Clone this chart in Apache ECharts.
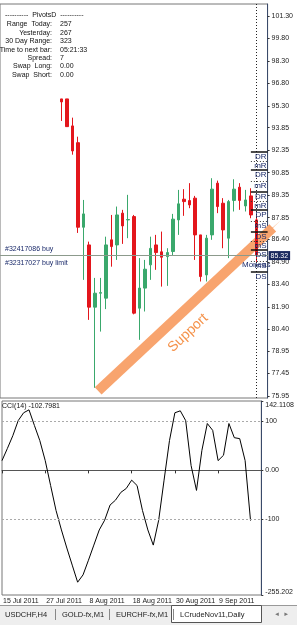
<!DOCTYPE html>
<html>
<head>
<meta charset="utf-8">
<script src="https://cdn.jsdelivr.net/npm/echarts@6/dist/echarts.min.js"></script>
<style>
html, body { margin: 0; padding: 0; background: #fff; }
#chart { width: 297px; height: 625px; }
</style>
</head>
<body>
<div id="chart"></div>
<script>
const dates = [
  '15 Jul 2011', '18 Jul 2011', '19 Jul 2011', '20 Jul 2011', '21 Jul 2011', '22 Jul 2011',
  '25 Jul 2011', '26 Jul 2011', '27 Jul 2011', '28 Jul 2011', '29 Jul 2011',
  '1 Aug 2011', '2 Aug 2011', '3 Aug 2011', '4 Aug 2011', '5 Aug 2011',
  '8 Aug 2011', '9 Aug 2011', '10 Aug 2011', '11 Aug 2011', '12 Aug 2011',
  '15 Aug 2011', '16 Aug 2011', '17 Aug 2011', '18 Aug 2011', '19 Aug 2011',
  '22 Aug 2011', '23 Aug 2011', '24 Aug 2011', '25 Aug 2011', '26 Aug 2011',
  '29 Aug 2011', '30 Aug 2011', '31 Aug 2011', '1 Sep 2011', '2 Sep 2011',
  '5 Sep 2011', '6 Sep 2011', '7 Sep 2011', '8 Sep 2011', '9 Sep 2011',
  '12 Sep 2011', '13 Sep 2011', '14 Sep 2011', '15 Sep 2011', '16 Sep 2011',
  '19 Sep 2011', '20 Sep 2011', '21 Sep 2011'
]

// visible candles start on 1 Aug 2011 (open, close, low, high)
const firstCandle = 11
const ohlc = [
  [95.77, 95.57, 94.30, 95.77],
  [95.77, 93.92, 93.90, 95.77],
  [93.97, 92.30, 92.05, 94.52],
  [92.85, 87.21, 86.83, 93.25],
  [87.21, 88.10, 83.70, 89.03],
  [86.03, 81.88, 81.03, 86.25],
  [81.88, 82.81, 76.50, 83.83],
  [82.81, 82.85, 80.25, 83.83],
  [82.48, 86.03, 81.75, 86.58],
  [86.37, 85.92, 84.58, 88.03],
  [86.03, 88.03, 85.03, 88.59],
  [88.15, 87.30, 86.10, 88.37],
  [87.70, 87.72, 86.48, 89.37],
  [87.92, 81.48, 81.40, 88.03],
  [81.81, 83.15, 79.70, 85.15],
  [83.15, 84.41, 81.59, 85.03],
  [84.70, 85.80, 83.70, 86.58],
  [86.03, 85.52, 84.37, 86.70],
  [85.57, 85.21, 83.25, 86.92],
  [85.25, 85.52, 83.30, 85.81],
  [85.59, 87.75, 85.30, 88.10],
  [87.70, 88.77, 86.70, 89.70],
  [89.08, 88.92, 87.97, 89.75],
  [88.99, 88.70, 88.48, 90.15],
  [89.15, 86.70, 85.03, 89.30],
  [86.70, 83.92, 83.59, 86.70],
  [84.03, 86.48, 83.59, 86.70],
  [86.70, 89.75, 86.37, 90.48],
  [90.15, 88.59, 88.15, 90.32],
  [88.81, 87.03, 85.81, 89.15],
  [86.48, 88.92, 85.15, 89.03],
  [89.00, 89.75, 88.26, 90.41],
  [89.88, 89.00, 88.37, 90.15],
  [88.63, 89.03, 88.26, 89.70],
  [89.30, 88.03, 87.81, 89.81],
  [87.70, 85.32, 84.90, 88.00]
]

const cci = [
  20, 45, 71, 102, 118, 124, 92, 61, 20, -31, -82, -122, -159, -194, -229, -214,
  -184, -153, -122, -102, -71, -61, -45, -37, -20, -31, -82, -122, -153, -102, -20,
  61, 118, 122, 102, 10, -41, 41, 96, 82, 20, 31, 96, 67, 65, 20, -102.7981
]

const priceTicks = [101.30, 99.80, 98.30, 96.80, 95.30, 93.85, 92.35, 90.85, 89.35,
  87.85, 86.40, 84.90, 83.40, 81.90, 80.40, 78.95, 77.45, 75.95]
const cciTicks = [142.1108, 100, 0, -100, -255.202]
const cciTickLabels = ['142.1108', '100', '0.00', '-100', '-255.202']
const cciLevels = [100, -100]

const bidPrice = 85.32
const pivotNames = ['DR', 'mR', 'DR', 'mR', 'DR', 'mR', 'DP', 'mS', 'DS', 'mS', 'DS', 'mS', 'DS']
const pivotLevels = [92.23, 91.63, 91.03, 90.30, 89.57, 88.97, 88.37, 87.63, 86.90, 86.30, 85.70, 84.97, 84.23]

// support arrow, in bar index / price
const supportFrom = [17.6, 76.3]
const supportTo = [48.9, 87.17]

const infoLabels = ['Range  Today:', 'Yesterday:', '30 Day Range:', 'Time to next bar:', 'Spread:', 'Swap  Long:', 'Swap  Short:']
const infoValues = ['257', '267', '323', '05:21:33', '7', '0.00', '0.00']
const tabNames = ['USDCHF,H4', 'GOLD-fx,M1', 'EURCHF-fx,M1', 'LCrudeNov11,Daily']

const font = 'Liberation Sans'
const green = '#3aa86c'
const red = '#e3161c'
const navy = '#1a2a6a'
const priceMin = 75.82
const priceMax = 102.1

const candleData = dates.map((d, i) => {
  const k = i - firstCandle
  return k >= 0 && k < ohlc.length ? ohlc[k] : '-'
})
const cciData = dates.map((d, i) => (i < cci.length ? cci[i] : '-'))

const chart = echarts.init(document.getElementById('chart'), null, { renderer: 'canvas' })

const pivotLines = pivotLevels.map((p, i) => {
  const major = pivotNames[i][0] === 'D'
  return [
    {
      coord: [45, p],
      lineStyle: major ? { color: '#111', width: 1.5, type: 'solid' } : { color: '#333', width: 1, type: [1, 2] }
    },
    {
      coord: [48, p],
      label: {
        show: true, formatter: pivotNames[i], position: 'insideEndBottom',
        color: navy, fontSize: 8, fontFamily: font, distance: [1, 1]
      }
    }
  ]
})

const infoText = []
infoText.push({
  type: 'text', left: 5, top: 12,
  style: { text: '----------  PivotsD  ----------', font: '7px ' + font, fill: '#111' }
})
infoLabels.forEach((t, i) => {
  infoText.push({
    type: 'text', right: 297 - 52, top: 21 + i * 8.4,
    style: { text: t, font: '7px ' + font, fill: '#111', textAlign: 'right' }
  })
  infoText.push({
    type: 'text', left: 60, top: 21 + i * 8.4,
    style: { text: infoValues[i], font: '7px ' + font, fill: '#111' }
  })
})

const tabX = [5, 62, 116, 180]
const tabs = [
  { type: 'rect', shape: { x: 0, y: 605, width: 297, height: 20 }, style: { fill: '#eeeeee' }, silent: true },
  { type: 'line', shape: { x1: 0, y1: 605.5, x2: 297, y2: 605.5 }, style: { stroke: '#999' } },
  { type: 'rect', shape: { x: 171.5, y: 605.5, width: 90, height: 17 }, style: { fill: '#fff', stroke: '#555' } },
  { type: 'text', x: 274, y: 611, style: { text: '\u25c4  \u25ba', font: '6px ' + font, fill: '#777' } }
]
tabNames.forEach((t, i) => {
  tabs.push({ type: 'text', x: tabX[i], y: 611, style: { text: t, font: '7.5px ' + font, fill: '#222' } })
  if (i < 3) {
    tabs.push({ type: 'line', shape: { x1: tabX[i + 1] - 6.5, y1: 609, x2: tabX[i + 1] - 6.5, y2: 620 }, style: { stroke: '#888' } })
  }
})

// bar spacing of the main grid, used to give the overlay grid the same x scale
const barStep = (297 + 1.6 - 29.4) / (dates.length - 1)
const overlayMax = 52

chart.setOption({
  animation: false,
  textStyle: { fontFamily: font },
  grid: [
    { left: -1.6, right: 29.4, top: 4, bottom: 227, show: true, borderColor: '#777', borderWidth: 1 },
    { left: -1.6, right: 29.4, top: 401, bottom: 30, show: true, borderColor: '#777', borderWidth: 1 },
    { left: -1.6, width: barStep * overlayMax, top: 4, bottom: 227, show: false }
  ],
  xAxis: [
    {
      type: 'category', gridIndex: 0, data: dates, boundaryGap: false,
      axisLine: { show: false }, axisTick: { show: false }, axisLabel: { show: false }
    },
    {
      type: 'category', gridIndex: 1, data: dates, boundaryGap: false,
      axisLine: { lineStyle: { color: '#555' } },
      axisTick: { interval: (i) => i % 8 === 0 && i < 48, length: 3, lineStyle: { color: '#333' } },
      axisLabel: { interval: (i) => i % 8 === 0 && i < 48, align: 'left', fontSize: 7, color: '#222', margin: 3, padding: [0, 0, 0, 1] }
    },
    { type: 'value', gridIndex: 2, min: 0, max: overlayMax, show: false }
  ],
  yAxis: [
    {
      type: 'value', gridIndex: 0, position: 'right', min: priceMin, max: priceMax,
      splitLine: { show: false },
      axisLine: { show: true, lineStyle: { color: '#3a4a6a' } },
      axisTick: { show: true, customValues: priceTicks, length: 2, lineStyle: { color: '#333' } },
      axisLabel: { customValues: priceTicks, formatter: (v) => v.toFixed(2), fontSize: 7, color: '#222', margin: 4 }
    },
    {
      type: 'value', gridIndex: 1, position: 'right', min: -255.202, max: 142.1108,
      splitLine: { show: false },
      axisLine: { show: true, lineStyle: { color: '#3a4a6a' } },
      axisTick: { show: true, customValues: cciTicks, length: 2, lineStyle: { color: '#333' } },
      axisLabel: {
        customValues: cciTicks, fontSize: 7, color: '#222', margin: 4,
        formatter: (v) => {
          let k = 0
          cciTicks.forEach((t, i) => { if (Math.abs(t - v) < Math.abs(cciTicks[k] - v)) k = i })
          if (k === 0) return '{t|' + cciTickLabels[k] + '}'
          if (k === cciTicks.length - 1) return '{b|' + cciTickLabels[k] + '}'
          return cciTickLabels[k]
        },
        rich: {
          t: { fontSize: 7, color: '#222', padding: [8, 0, 0, 0] },
          b: { fontSize: 7, color: '#222', padding: [0, 0, 6, 0] }
        }
      }
    },
    { type: 'value', gridIndex: 2, min: priceMin, max: priceMax, show: false }
  ],
  series: [
    {
      type: 'line', xAxisIndex: 2, yAxisIndex: 2, data: [supportFrom, supportTo],
      showSymbol: false, clip: false, silent: true, z: 1,
      lineStyle: { width: 10, color: '#f8a46e', cap: 'butt' },
      markLine: {
        silent: true, animation: false,
        symbol: ['none', 'triangle'], symbolSize: [1, 22],
        lineStyle: { color: '#f8a46e', width: 1, type: 'solid', opacity: 1 },
        label: { show: false },
        data: [[{ coord: [supportTo[0] - 1, supportTo[1] - (supportTo[1] - supportFrom[1]) / (supportTo[0] - supportFrom[0])] }, { coord: supportTo }]]
      }
    },
    {
      type: 'candlestick', xAxisIndex: 0, yAxisIndex: 0, data: candleData, barWidth: 3, z: 2,
      itemStyle: { color: green, color0: red, borderColor: green, borderColor0: red, borderWidth: 1 },
      markLine: {
        silent: true, symbol: 'none', animation: false,
        data: [
          [
            { coord: [0, bidPrice], lineStyle: { color: '#8c9a8c', width: 1, type: 'solid' },
              label: { show: true, position: 'insideStartTop', formatter: '#32417086 buy', color: navy, fontSize: 7, distance: [5, 3] } },
            { coord: [48, bidPrice] }
          ],
          [
            { coord: [0, bidPrice], lineStyle: { color: '#8c9a8c', width: 1, type: 'solid' },
              label: { show: true, position: 'insideStartBottom', formatter: '#32317027 buy limit', color: navy, fontSize: 7, distance: [5, 4] } },
            { coord: [48, bidPrice] }
          ],
          {
            yAxis: bidPrice, lineStyle: { color: '#8c9a8c', width: 1, type: 'solid' },
            label: { show: true, position: 'end', formatter: '85.32', color: '#fff', backgroundColor: '#1b2a5e', fontSize: 7, padding: [1, 2], distance: 1 }
          },
          { xAxis: 46, lineStyle: { color: '#222', width: 1, type: [1, 2] }, label: { show: false } },
          ...pivotLines
        ]
      }
    },
    {
      type: 'line', xAxisIndex: 1, yAxisIndex: 1, data: cciData, symbol: 'none',
      lineStyle: { color: '#000', width: 1 },
      markLine: {
        silent: true, symbol: 'none', animation: false, label: { show: false },
        lineStyle: { color: '#aaa', type: [2, 2], width: 1 },
        data: cciLevels.map((v) => ({ yAxis: v }))
      }
    }
  ],
  graphic: [
    ...infoText,
    { type: 'text', left: 2, top: 403, style: { text: 'CCI(14) -102.7981', font: '7px ' + font, fill: '#111' } },
    { type: 'text', x: 242, y: 261, style: { text: 'Moneas', font: '8px ' + font, fill: navy } },
    {
      type: 'text', x: 188, y: 333, rotation: 0.75,
      style: { text: 'Support', font: '14px ' + font, fill: '#f5924a', textAlign: 'center', textVerticalAlign: 'middle' }
    },
    ...tabs
  ]
})
</script>
</body>
</html>
